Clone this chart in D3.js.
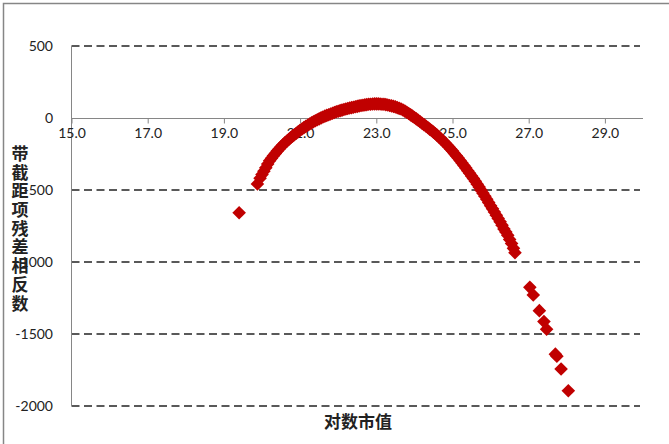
<!DOCTYPE html>
<html><head><meta charset="utf-8">
<script src="https://cdn.jsdelivr.net/npm/d3@7"></script>
<style>
html,body{margin:0;padding:0;background:#fff;}
svg{display:block;}
</style></head>
<body>
<svg id="c" width="669" height="444"></svg>
<script>
// ---- data ----
const xTicks = [15, 17, 19, 21, 23, 25, 27, 29];
const yTicks = [500, 0, -500, -1000, -1500, -2000];
const xLabel = "对数市值";
const yLabel = "带截距项残差相反数";
// dense band of points (log market value, negative residual)
const bandX = [19.95,20.0,20.05,20.1,20.15,20.2,20.25,20.3,20.35,20.4,20.45,20.5,20.55,20.6,20.65,20.7,20.75,20.8,20.85,20.9,20.95,
  21.0,21.05,21.1,21.15,21.2,21.25,21.3,21.35,21.4,21.45,21.5,21.55,21.6,21.65,21.7,21.75,21.8,21.85,21.9,21.95,
  22.0,22.05,22.1,22.15,22.2,22.25,22.3,22.35,22.4,22.45,22.5,22.55,22.6,22.65,22.7,22.75,22.8,22.85,22.9,22.95,
  23.0,23.05,23.1,23.15,23.2,23.25,23.3,23.35,23.4,23.45,23.5,23.55,23.6,23.65,23.7,23.75,23.8,23.85,23.9,23.95,
  24.0,24.05,24.1,24.15,24.2,24.25,24.3,24.35,24.4,24.45,24.5,24.55,24.6,24.65,24.7,24.75,24.8,24.85,24.9,24.95,
  25.0,25.05,25.1,25.15,25.2,25.25,25.3,25.35,25.4,25.45,25.5,25.55,25.6,25.65,25.7,25.75,25.8,25.85,25.9,25.95,
  26.0,26.05,26.1,26.15,26.2,26.25,26.3,26.35,26.4,26.45,26.5,26.55,26.6,26.64];
const bandY = [-418,-393,-369,-345,-320,-297,-279,-262,-246,-230,-215,-200,-186,-173,-161,-149,-137,-126,-116,-106,-95,
  -85,-76,-67,-58,-50,-42,-34,-26,-19,-12,-6,1,7,13,18,23,28,33,38,43,
  47,51,55,59,62,66,69,72,75,78,81,84,87,89,91,93,95,96,97,98,
  98,98,97,96,95,93,90,87,84,81,77,72,67,62,56,48,40,31,22,13,
  3,-6,-16,-26,-36,-46,-56,-66,-77,-87,-98,-109,-121,-133,-146,-159,-172,-186,-200,-215,
  -230,-246,-262,-278,-295,-312,-330,-348,-366,-384,-402,-421,-440,-460,-480,-501,-522,-543,-565,-587,
  -609,-631,-653,-675,-698,-721,-744,-770,-792,-815,-843,-872,-905,-935];
// isolated points
const sparseX = [19.40, 19.88, 27.03, 27.12, 27.28, 27.40, 27.47, 27.70, 27.74, 27.85, 28.04];
const sparseY = [-658, -458, -1176, -1229, -1338, -1414, -1467, -1640, -1655, -1743, -1894];

// ---- chart ----
const svg = d3.select("#c");
const pLeft = 71.5, pRight = 643, pTop = 46, pBottom = 406;
const x = d3.scaleLinear().domain([15, 30]).range([pLeft, pRight]);
const y = d3.scaleLinear().domain([-2000, 500]).range([pBottom, pTop]);

// outer border
svg.append("rect").attr("x", 3.5).attr("y", 3.5).attr("width", 700).attr("height", 500)
  .attr("fill", "none").attr("stroke", "#868686").attr("stroke-width", 1.5);

// dashed gridlines
svg.append("g").selectAll("line").data(yTicks.filter(d => d !== 0)).join("line")
  .attr("x1", pLeft).attr("x2", 640)
  .attr("y1", d => Math.round(y(d))).attr("y2", d => Math.round(y(d)))
  .attr("stroke", "#595959").attr("stroke-width", 2).attr("stroke-dasharray", "8,4.5");

// y axis line
svg.append("line").attr("x1", pLeft).attr("x2", pLeft).attr("y1", y(500)).attr("y2", y(-2000))
  .attr("stroke", "#868686").attr("stroke-width", 1);

// x axis at y=0
const xAxis = d3.axisBottom(x).tickValues(xTicks).tickFormat(d3.format(".1f"))
  .tickSizeInner(5).tickSizeOuter(0).tickPadding(5);
const gx = svg.append("g").attr("transform", `translate(0,${Math.round(y(0)) + 0.5})`).call(xAxis);
gx.select(".domain").attr("d", `M${pLeft},0H${pRight}`).attr("stroke", "#868686");
gx.selectAll(".tick line").attr("stroke", "#868686");
gx.selectAll("text").attr("font-family", "Lato, 'Open Sans', sans-serif").attr("font-size", 14).attr("fill", "#222");

// y tick labels
svg.append("g").selectAll("text").data(yTicks).join("text")
  .attr("x", 53).attr("y", d => y(d)).attr("dy", "0.35em").attr("text-anchor", "end")
  .attr("font-family", "Lato, 'Open Sans', sans-serif").attr("font-size", 14).attr("fill", "#222")
  .text(d => d);

// markers
const diamond = "M0,-6.8L6.8,0L0,6.8L-6.8,0Z";
const pts = bandX.map((v, i) => [v, bandY[i]]).concat(sparseX.map((v, i) => [v, sparseY[i]]));
svg.append("g").selectAll("path").data(pts).join("path")
  .attr("d", diamond)
  .attr("transform", d => `translate(${x(d[0])},${y(d[1])})`)
  .attr("fill", "#C00000");

// axis titles
svg.append("text").attr("x", 358).attr("y", 422).attr("dy", "0.35em").attr("text-anchor", "middle")
  .attr("font-family", "'Noto Sans CJK SC', sans-serif").attr("font-weight", "bold").attr("font-size", 17)
  .attr("fill", "#222").text(xLabel);

const yt = svg.append("text").attr("text-anchor", "middle")
  .attr("font-family", "'Noto Sans CJK SC', sans-serif").attr("font-weight", "bold").attr("font-size", 17)
  .attr("fill", "#222");
yt.selectAll("tspan").data(Array.from(yLabel)).join("tspan")
  .attr("x", 20).attr("y", (d, i) => 154 + i * 18.7).attr("dy", "0.35em").text(d => d);
</script>
</body></html>
